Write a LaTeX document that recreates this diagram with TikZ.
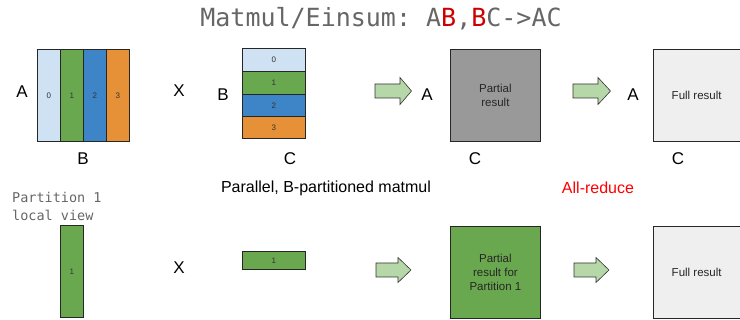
\documentclass[tikz,border=0pt]{standalone}
\usepackage{fontspec}
\setmainfont{Liberation Sans}
\newfontfamily\monof{DejaVu Sans Mono}
\definecolor{lblue}{HTML}{CFE2F3}
\definecolor{mgreen}{HTML}{6AA84F}
\definecolor{mblue}{HTML}{3D85C6}
\definecolor{morange}{HTML}{E69138}
\definecolor{pgray}{HTML}{999999}
\definecolor{fgray}{HTML}{EFEFEF}
\definecolor{agreen}{HTML}{B6D7A8}
\definecolor{tgray}{HTML}{666666}
\definecolor{dred}{HTML}{CC0000}
\begin{document}
\begin{tikzpicture}[x=1pt,y=-1pt,
  cell/.style={draw=black!85, line width=0.8pt, inner sep=0pt, anchor=north west},
  num/.style={font=\fontsize{8}{9}\selectfont, text=black!80},
  lbl/.style={font=\fontsize{17}{20}\selectfont},
  boxtxt/.style={font=\fontsize{11.5}{14}\selectfont, align=center, text=black!85},
  blockarrow/.style={draw=black!80, line width=0.6pt, fill=agreen, line join=miter}]
\useasboundingbox (0,0) rectangle (740,320);
% title
\node[font=\monof\fontsize{25}{28}\selectfont, text=tgray] (title) at (381,19) {Matmul/Einsum:\ A\textcolor{dred}{B},\textcolor{dred}{B}C->AC};
% matrix A (columns)
\node[cell, fill=lblue, minimum width=23, minimum height=92] (a0) at (37,49) {};
\node[cell, fill=mgreen, minimum width=23, minimum height=92] (a1) at (60,49) {};
\node[cell, fill=mblue, minimum width=23, minimum height=92] (a2) at (83,49) {};
\node[cell, fill=morange, minimum width=23, minimum height=92] (a3) at (106,49) {};
\node[num] at (a0) {0};\node[num] at (a1) {1};\node[num] at (a2) {2};\node[num] at (a3) {3};
\node[lbl] (lA1) at (22,92) {A};
\node[lbl] (lB1) at (83,159) {B};
\node[lbl] (x1) at (179,91) {X};
% matrix B (rows)
\node[lbl] (lB2) at (223,95) {B};
\node[cell, fill=lblue, minimum width=63, minimum height=23] (b0) at (242,48) {};
\node[cell, fill=mgreen, minimum width=63, minimum height=23] (b1) at (242,71) {};
\node[cell, fill=mblue, minimum width=63, minimum height=22] (b2) at (242,94) {};
\node[cell, fill=morange, minimum width=63, minimum height=22] (b3) at (242,116) {};
\node[num] at (b0) {0};\node[num] at (b1) {1};\node[num] at (b2) {2};\node[num] at (b3) {3};
\node[lbl] (lC1) at (290,159) {C};
% arrow 1
\draw[blockarrow] (375,84) -- (400,84) -- (400,77.5) -- (411.5,91) -- (400,104.5) -- (400,98) -- (375,98) -- cycle;
\node[lbl] (lA2) at (427,95) {A};
\node[cell, fill=pgray, minimum width=90, minimum height=92] (pr) at (450,49) {};
\node[boxtxt] at (pr) {Partial\\result};
\node[lbl] (lC2) at (475,159) {C};
% arrow 2
\draw[blockarrow] (573,84) -- (598,84) -- (598,77.5) -- (610.5,91) -- (598,104.5) -- (598,98) -- (573,98) -- cycle;
\node[lbl] (lA3) at (633,95) {A};
\node[cell, fill=fgray, minimum width=86.5, minimum height=92] (fr) at (653,49) {};
\node[boxtxt] at (fr) {Full result};
\node[lbl] (lC3) at (678,159) {C};
% middle labels
\node[font=\fontsize{16}{19}\selectfont] (par) at (326,188) {Parallel, B-partitioned matmul};
\node[font=\fontsize{16}{19}\selectfont, text=red] (ar) at (598,188) {All-reduce};
\node[anchor=north west, align=left, inner sep=0pt, font=\monof\fontsize{13.5}{18}\selectfont, text=tgray] (pv) at (12,192) {Partition 1\\local view};
% bottom row
\node[cell, fill=mgreen, minimum width=23, minimum height=92] (p1) at (60,225) {};
\node[num] at (p1) {1};
\node[lbl] (x2) at (179,268) {X};
\node[cell, fill=mgreen, minimum width=63, minimum height=18] (r1) at (242,251) {};
\node[num] at (r1) {1};
\draw[blockarrow] (376,263) -- (398,263) -- (398,257.5) -- (411,270) -- (398,282.5) -- (398,277) -- (376,277) -- cycle;
\node[cell, fill=mgreen, minimum width=90, minimum height=92] (pg) at (450,226) {};
\node[boxtxt] at (pg) {Partial\\result for\\Partition 1};
\draw[blockarrow] (574,263) -- (596,263) -- (596,257.5) -- (609,270) -- (596,282.5) -- (596,277) -- (574,277) -- cycle;
\node[cell, fill=fgray, minimum width=86.5, minimum height=92] (fg) at (653,226) {};
\node[boxtxt] at (fg) {Full result};
\end{tikzpicture}
\end{document}
